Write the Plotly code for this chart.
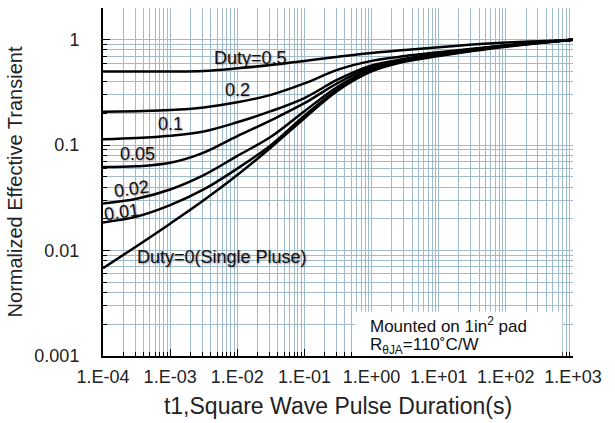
import plotly.graph_objects as go

# Pulse duration (s)
t1 = [1e-4, 10**-3.5, 1e-3, 10**-2.5, 1e-2, 10**-1.5, 1e-1, 10**-0.5, 1e0,
      10**0.5, 1e1, 10**1.5, 1e2, 10**2.5, 1e3]

duty_05 = [0.50, 0.50, 0.50, 0.505, 0.535, 0.575, 0.63, 0.69, 0.75, 0.80, 0.85, 0.90, 0.94, 0.97, 1.0]
duty_02 = [0.207, 0.21, 0.215, 0.228, 0.255, 0.30, 0.385, 0.52, 0.63, 0.70, 0.76, 0.82, 0.88, 0.94, 1.0]
duty_01 = [0.114, 0.117, 0.123, 0.135, 0.165, 0.21, 0.28, 0.42, 0.57, 0.66, 0.74, 0.81, 0.88, 0.94, 1.0]
duty_005 = [0.062, 0.063, 0.068, 0.085, 0.122, 0.172, 0.25, 0.39, 0.55, 0.65, 0.73, 0.81, 0.88, 0.94, 1.0]
duty_002 = [0.028, 0.031, 0.038, 0.052, 0.079, 0.12, 0.21, 0.36, 0.53, 0.64, 0.72, 0.80, 0.87, 0.94, 1.0]
duty_001 = [0.0185, 0.021, 0.027, 0.038, 0.06, 0.10, 0.19, 0.34, 0.51, 0.63, 0.71, 0.79, 0.87, 0.93, 1.0]
single = [0.0068, 0.011, 0.018, 0.03, 0.052, 0.095, 0.18, 0.33, 0.50, 0.62, 0.70, 0.78, 0.86, 0.93, 1.0]

series = [duty_05, duty_02, duty_01, duty_005, duty_002, duty_001, single]

x_tickvals = [1e-4, 1e-3, 1e-2, 1e-1, 1e0, 1e1, 1e2, 1e3]
x_ticktext = ["1.E-04", "1.E-03", "1.E-02", "1.E-01", "1.E+00", "1.E+01", "1.E+02", "1.E+03"]
y_tickvals = [0.001, 0.01, 0.1, 1]
y_ticktext = ["0.001", "0.01", "0.1", "1"]

FONT = "Liberation Sans, Arial, sans-serif"
GRID = "rgb(160,187,203)"

fig = go.Figure()
for s in series:
    fig.add_trace(go.Scatter(x=t1, y=s, mode="lines",
                             line=dict(color="black", width=2.5, shape="spline", smoothing=1.0),
                             showlegend=False, hoverinfo="skip"))

# curve labels: (text, log10 x, log10 y, angle)
labels = [
    ("Duty=0.5", -1.81, -0.17, 0),
    ("0.2", -1.99, -0.476, 0),
    ("0.1", -2.99, -0.8, 0),
    ("0.05", -3.48, -1.086, 0),
    ("0.02", -3.58, -1.42, -8),
    ("0.01", -3.72, -1.63, -8),
    ("Duty=0(Single Pluse)", -2.23, -2.06, 0),
]
for txt, lx, ly, ang in labels:
    fig.add_annotation(x=lx, y=ly, xref="x", yref="y", text=txt, showarrow=False,
                       textangle=ang,
                       font=dict(family=FONT, size=18, color="#111",
                                 shadow="1px 1px 2px rgba(0,0,0,0.35)"))

# white info box
fig.add_shape(type="rect", xref="x", yref="y", x0=10**-0.24, x1=10**2.84,
              y0=0.001, y1=10**-2.58, fillcolor="white", line=dict(width=0), layer="above")
fig.add_annotation(x=-0.05, y=-2.705, xref="x", yref="y", xanchor="left",
                   text="Mounted on 1in<sup>2</sup> pad", showarrow=False,
                   font=dict(family=FONT, size=17, color="#111"))
fig.add_annotation(x=-0.05, y=-2.905, xref="x", yref="y", xanchor="left",
                   text="R<sub>θJA</sub>=110˚C/W", showarrow=False,
                   font=dict(family=FONT, size=17, color="#111"))

fig.update_layout(
    width=615, height=423,
    margin=dict(l=103, r=42, t=8, b=67),
    paper_bgcolor="white", plot_bgcolor="white",
    font=dict(family=FONT, color="#222"),
    xaxis=dict(type="log", range=[-4, 3], tickvals=x_tickvals, ticktext=x_ticktext,
               showgrid=True, gridcolor=GRID, gridwidth=1,
               showline=True, linecolor="black", linewidth=2,
               ticks="inside", ticklen=7, tickcolor="black",
               minor=dict(dtick="D1", showgrid=True, gridcolor=GRID, gridwidth=1,
                          ticks="inside", ticklen=4, tickcolor="black"),
               tickfont=dict(size=18, color="#222"),
               ticklabelstandoff=3,
               title=dict(text="t1,Square Wave Pulse Duration(s)", font=dict(size=23, color="#222"),
                          standoff=12),
               zeroline=False),
    yaxis=dict(type="log", range=[-3, 0.301], tickvals=y_tickvals, ticktext=y_ticktext,
               showgrid=True, gridcolor=GRID, gridwidth=1,
               showline=True, linecolor="black", linewidth=2,
               ticks="inside", ticklen=7, tickcolor="black",
               minor=dict(dtick="D1", showgrid=True, gridcolor=GRID, gridwidth=1,
                          ticks="inside", ticklen=4, tickcolor="black"),
               tickfont=dict(size=18, color="#222"),
               ticklabelstandoff=18,
               title=dict(text="Normalized Effective Transient", font=dict(size=20, color="#222"),
                          standoff=6),
               zeroline=False),
)

fig.write_html("out.html")
